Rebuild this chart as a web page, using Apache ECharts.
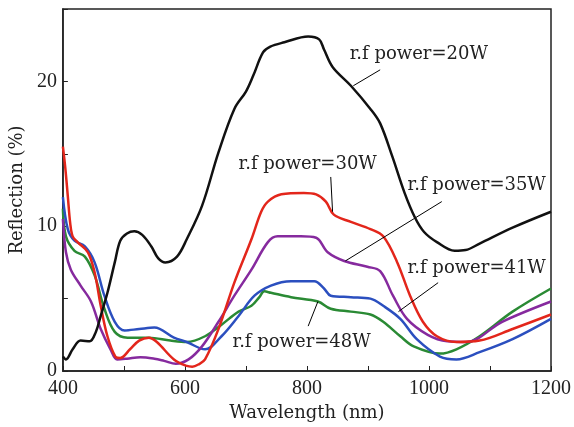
<!DOCTYPE html>
<html>
<head>
<meta charset="utf-8">
<script src="https://cdn.jsdelivr.net/npm/echarts@6/dist/echarts.min.js"></script>
<style>
  html, body { margin: 0; padding: 0; background: #fff; }
  #chart { width: 574px; height: 427px; }
</style>
</head>
<body>
<div id="chart"></div>
<script>
// Reflection spectra (wavelength nm, reflection %)
const wl20 = [400, 405, 416, 429, 444, 454, 462, 473, 485, 494, 505, 517, 530, 545, 556, 568, 587, 603, 628, 655, 681, 700, 712, 728, 740, 763, 802, 820, 828, 842, 872, 904, 920, 940, 960, 977, 992, 1013, 1042, 1060, 1083, 1137, 1200];
const r20 = [1.0, 0.8, 1.5, 2.1, 2.05, 2.7, 3.8, 5.4, 7.5, 9.0, 9.5, 9.65, 9.4, 8.6, 7.8, 7.5, 7.9, 9.1, 11.4, 15.1, 18.1, 19.3, 20.4, 22.0, 22.4, 22.7, 23.1, 22.9, 22.2, 21.0, 19.7, 18.1, 17.1, 14.8, 12.3, 10.6, 9.6, 8.9, 8.3, 8.35, 8.8, 9.9, 11.0];

const wl30 = [400, 404, 408, 412, 416, 424, 441, 452, 462, 473, 486, 494, 510, 525, 541, 554, 582, 603, 612, 622, 633, 655, 681, 709, 725, 736, 758, 795, 815, 831, 844, 872, 904, 925, 948, 969, 990, 1013, 1045, 1083, 1137, 1200];
const r30 = [15.5, 14.0, 12.1, 10.2, 9.3, 8.9, 8.2, 6.8, 4.5, 2.4, 1.0, 0.9, 1.5, 2.1, 2.3, 2.0, 0.8, 0.35, 0.3, 0.45, 0.8, 2.9, 6.1, 9.1, 11.0, 11.7, 12.2, 12.3, 12.2, 11.7, 10.8, 10.3, 9.8, 9.3, 7.5, 5.2, 3.4, 2.4, 2.0, 2.1, 2.9, 3.9];

const wl35 = [400, 405, 413, 429, 446, 462, 478, 489, 505, 527, 550, 566, 585, 606, 628, 655, 681, 709, 736, 752, 790, 815, 834, 861, 899, 920, 941, 964, 998, 1030, 1061, 1120, 1200];
const r35 = [10.5, 8.2, 7.0, 5.9, 4.8, 2.9, 1.5, 0.8, 0.85, 0.95, 0.85, 0.7, 0.5, 0.8, 1.7, 3.4, 5.2, 7.0, 8.9, 9.3, 9.3, 9.2, 8.2, 7.6, 7.2, 6.9, 5.2, 3.6, 2.5, 2.05, 2.0, 3.4, 4.8];

const wl41 = [400, 408, 419, 436, 452, 468, 485, 501, 525, 550, 582, 603, 633, 660, 688, 714, 741, 774, 812, 828, 839, 872, 904, 925, 953, 980, 1018, 1045, 1083, 1137, 1200];
const r41 = [12.0, 9.8, 9.0, 8.6, 7.5, 5.2, 3.4, 2.8, 2.9, 3.0, 2.3, 2.0, 1.5, 2.4, 3.8, 5.2, 5.9, 6.2, 6.2, 5.7, 5.2, 5.1, 5.0, 4.5, 3.6, 2.2, 1.0, 0.8, 1.3, 2.2, 3.6];

const wl48 = [400, 405, 419, 436, 452, 468, 485, 506, 541, 576, 603, 633, 660, 688, 709, 722, 730, 741, 774, 818, 839, 872, 904, 925, 953, 975, 1018, 1045, 1083, 1137, 1200];
const r48 = [11.2, 9.3, 8.3, 7.9, 6.6, 4.3, 2.7, 2.3, 2.3, 2.1, 2.0, 2.4, 3.2, 4.1, 4.5, 5.1, 5.5, 5.4, 5.1, 4.8, 4.3, 4.1, 3.9, 3.4, 2.4, 1.7, 1.2, 1.5, 2.4, 4.1, 5.7];

// Curve labels: [label text, text anchor, leader start, leader end]
const labels = [
    ["r.f power=20W", [870, 21.9], [920, 20.8], [876, 19.7]],
    ["r.f power=30W", [688, 14.3], [839, 13.4], [842, 11.0]],
    ["r.f power=35W", [965, 12.8], [1021, 11.7], [863, 7.6]],
    ["r.f power=41W", [965, 7.1], [1015, 6.1], [950, 4.1]],
    ["r.f power=48W", [678, 2.0], [802, 3.1], [818, 4.8]],
];

const colors = ["#111111", "#e3261b", "#862a9e", "#2b4fbf", "#2a8a34"];
const wls = [wl20, wl30, wl35, wl41, wl48];
const refl = [r20, r30, r35, r41, r48];

const serif = "Liberation Serif";
const wide = "DejaVu Serif";
const chart = echarts.init(document.getElementById("chart"));

const series = wls.map((wl, i) => ({
    type: "line",
    data: wl.map((x, j) => [x, refl[i][j]]),
    smooth: 0.35,
    symbol: "none",
    lineStyle: { color: colors[i], width: 2.5 },
    z: 5 - i,
    markLine: {
        silent: true,
        symbol: "none",
        label: { show: false },
        lineStyle: { color: "#000", width: 1, type: "solid" },
        data: [[{ coord: labels[i][2] }, { coord: labels[i][3] }]],
    },
    markPoint: {
        silent: true,
        symbol: "circle",
        symbolSize: 0,
        label: {
            show: true,
            position: "right",
            distance: 0,
            color: "#222",
            fontFamily: wide,
            fontSize: 18,
            formatter: labels[i][0],
        },
        data: [{ coord: labels[i][1] }],
    },
}));

chart.setOption({
    animation: false,
    grid: {
        left: 60, right: 22, top: 9, bottom: 55,
        show: true, borderColor: "#222", borderWidth: 1.5,
    },
    xAxis: {
        type: "value",
        min: 400, max: 1200, interval: 100,
        name: "Wavelength (nm)",
        nameLocation: "middle",
        nameGap: 33,
        nameTextStyle: { fontFamily: wide, fontSize: 18, color: "#222" },
        axisLine: { lineStyle: { color: "#222", width: 1.5 } },
        axisTick: { inside: true, length: 5, lineStyle: { color: "#222" } },
        axisLabel: {
            fontFamily: serif, fontSize: 20, color: "#222", margin: 8,
            formatter: (v) => (v % 200 === 0 ? String(v) : ""),
        },
        splitLine: { show: false },
    },
    yAxis: {
        type: "value",
        min: 0, max: 25, interval: 5,
        name: "Reflection (%)",
        nameLocation: "middle",
        nameGap: 28,
        nameTextStyle: { fontFamily: wide, fontSize: 18, color: "#222" },
        axisLine: { lineStyle: { color: "#222", width: 1.5 } },
        axisTick: { inside: true, length: 5, lineStyle: { color: "#222" } },
        axisLabel: {
            fontFamily: serif, fontSize: 20, color: "#222", margin: 6,
            formatter: (v) => (v % 10 === 0 ? String(v) : ""),
        },
        splitLine: { show: false },
    },
    series: series,
});
</script>
</body>
</html>
